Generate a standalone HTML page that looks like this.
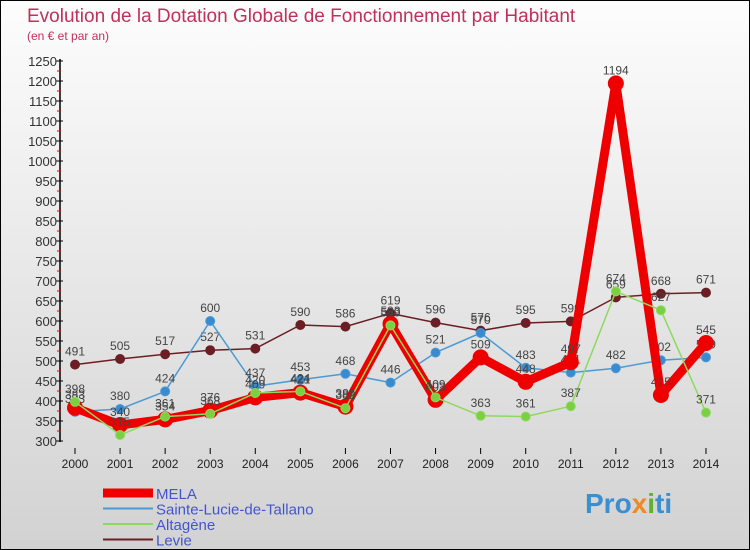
<!DOCTYPE html>
<html><head><meta charset="utf-8"><style>
html,body{margin:0;padding:0}
body{width:750px;height:550px;overflow:hidden;font-family:"Liberation Sans",sans-serif}
#wrap{position:relative;width:748px;height:548px;border:1px solid #000;background:linear-gradient(#fdfdfd,#d2d2d2)}
svg{position:absolute;left:0;top:0}
</style></head><body>
<div id="wrap">
<svg id="chart" width="748" height="548">
<text x="26" y="21" font-size="19" fill="#c0305a">Evolution de la Dotation Globale de Fonctionnement par Habitant</text>
<text x="26" y="39" font-size="12" fill="#c0305a">(en € et par an)</text>
<text x="584" y="512" font-size="28" font-weight="bold" fill="#3a8fd0">Pro<tspan fill="#f08a20">x</tspan><tspan fill="#60b030">i</tspan>ti</text>
</svg>
</div>
<script>
const years=[2000,2001,2002,2003,2004,2005,2006,2007,2008,2009,2010,2011,2012,2013,2014];
const mela=[383,340,354,376,409,421,386,593,403,509,448,497,1194,415,545];
const sainte=[373,380,424,600,437,453,468,446,521,570,483,471,482,502,509];
const altagene=[398,315,361,368,420,424,382,589,409,363,361,387,674,627,371];
const levie=[491,505,517,527,531,590,586,619,596,576,595,599,659,668,671];
const yTicks=[300,350,400,450,500,550,600,650,700,750,800,850,900,950,1000,1050,1100,1150,1200,1250];
const NS="http://www.w3.org/2000/svg";
const svg=document.getElementById('chart');
const X=i=>74+i*45.07;
const Y=v=>440-(v-300)*0.4;
function mk(t,a,p){const e=document.createElementNS(NS,t);for(const k in a)e.setAttribute(k,a[k]);(p||svg).appendChild(e);return e;}
// axes
let ax=mk('line',{x1:59,y1:58,x2:59,y2:441,stroke:'#000','stroke-width':1.5});


let xa=mk('line',{x1:59,y1:441,x2:710,y2:441,stroke:'#000','stroke-width':0});
yTicks.forEach((v,i)=>{
  const t=mk('line',{x1:55,y1:Y(v),x2:62,y2:Y(v),stroke:'#000'});
  
  
  if(i<yTicks.length-1){mk('line',{x1:56,y1:Y(v+25),x2:60,y2:Y(v+25),stroke:'#e00'});}
  const l=mk('text',{x:56,y:Y(v)+5,'text-anchor':'end','font-size':13,fill:'#333',});
  l.textContent=v;
  
  
});
years.forEach((y,i)=>{
  mk('line',{x1:X(i),y1:447,x2:X(i),y2:453,stroke:'#000'});
  const l=mk('text',{x:X(i),y:467,'text-anchor':'middle','font-size':12,fill:'#222'});
  l.textContent=y;
  
  
});
function series(data,color,w,r,name,dot){
  const g=mk('g',{});
  
  
  mk('polyline',{points:data.map((v,i)=>X(i)+','+Y(v)).join(' '),fill:'none',stroke:color,'stroke-width':w,'stroke-linejoin':'round'},g);
  data.forEach((v,i)=>{
    const c=mk('circle',{cx:X(i),cy:Y(v),r:r,fill:dot,stroke:color,'stroke-width':1},g);
    
    
    const t=mk('text',{x:X(i),y:Y(v)-9,'text-anchor':'middle','font-size':12,fill:'#444'},g);
    t.textContent=v;
    
    
  });
}
series(levie,'#6b1f24',1.5,4.5,'levie','#6b1f24');
series(sainte,'#4a9ad4',1.5,4.5,'sainte-lucie','#3a8ad0');
series(mela,'#ee0000',9,7.5,'mela','#ee0000');
series(altagene,'#8fd860',1.5,4.5,'altagene','#7ad040');
const leg=[['MELA','#ee0000',9],['Sainte-Lucie-de-Tallano','#4a9ad4',2],['Altagène','#8fd860',2],['Levie','#6b1f24',2]];
leg.forEach((d,i)=>{
  const y=492+i*15.5;
  const g=mk('g',{});
  
  
  mk('line',{x1:102,y1:y,x2:152,y2:y,stroke:d[1],'stroke-width':d[2]},g);
  const t=mk('text',{x:155,y:y+6,'font-size':15,fill:'#4455cc'},g);
  t.textContent=d[0];
});
</script>
</body></html>
